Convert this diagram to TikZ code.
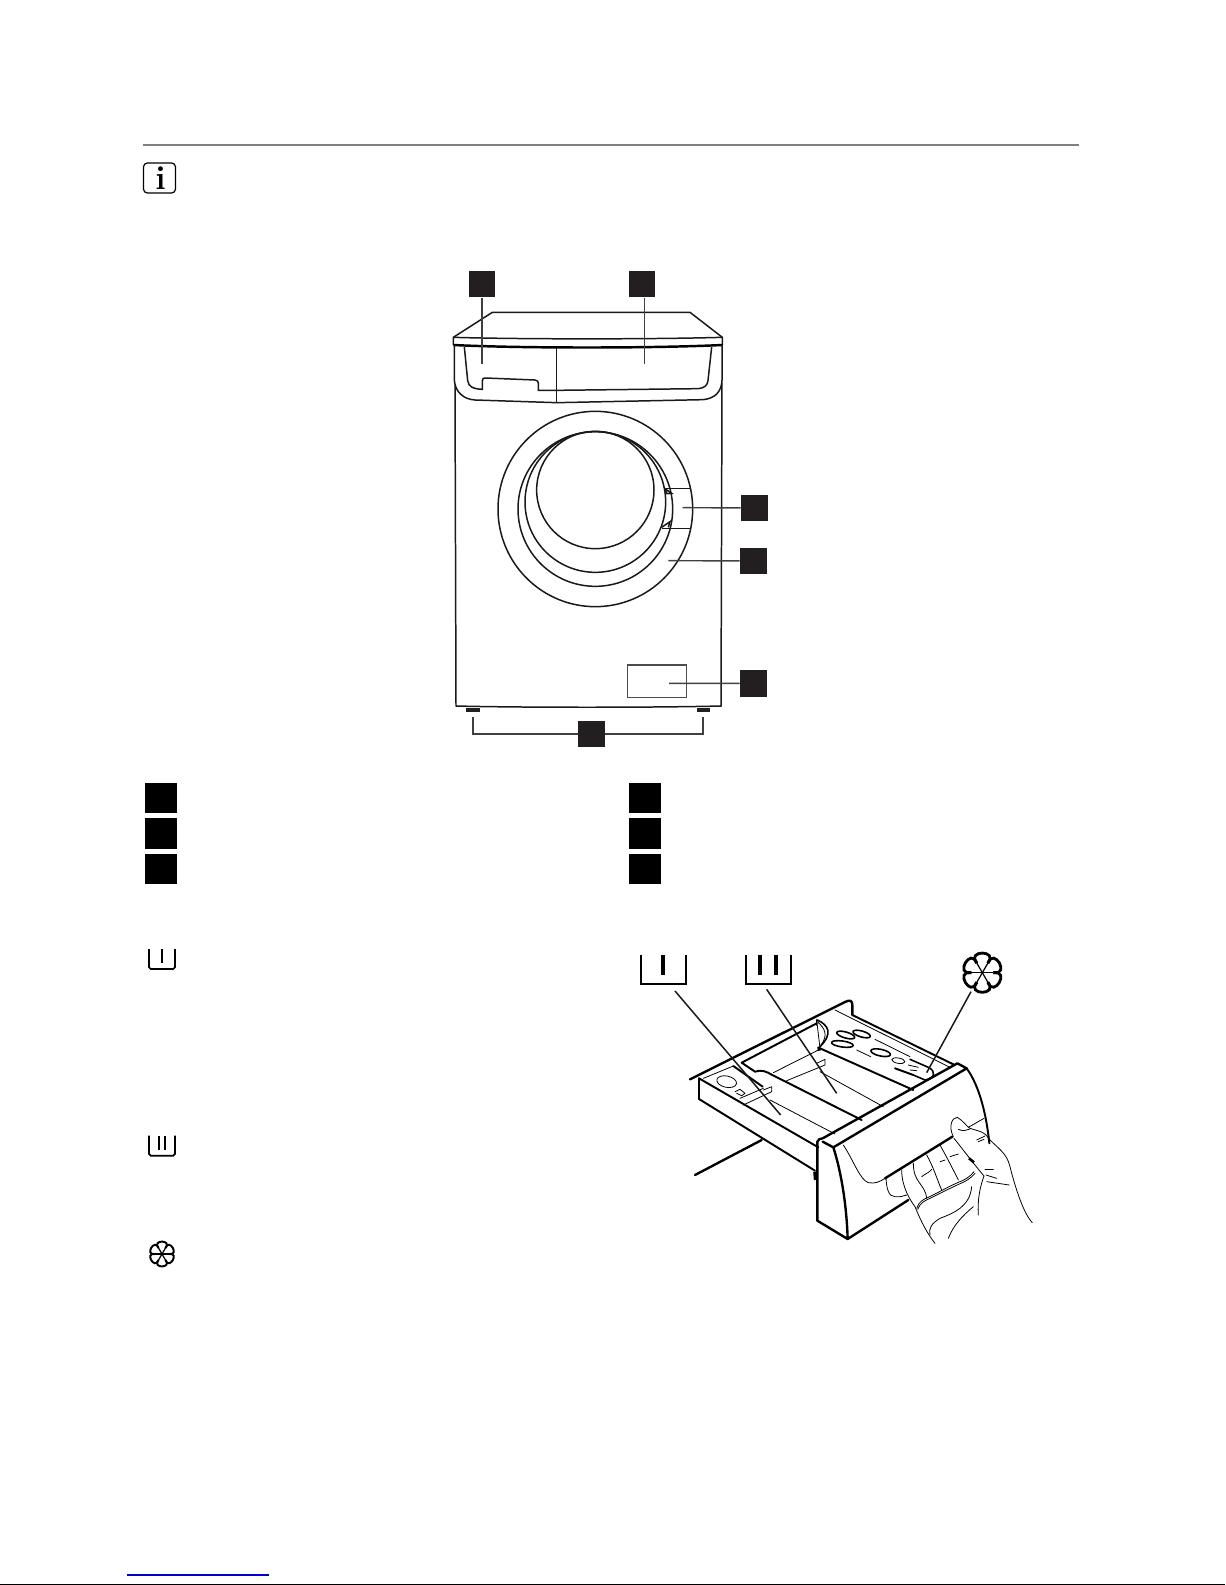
\documentclass[tikz,border=0pt]{standalone}
\usepackage{tikz}
\usetikzlibrary{positioning}
\definecolor{inkbox}{HTML}{231F20}
\tikzset{
  numbox/.style={fill=inkbox,inner sep=0pt,minimum size=0.53cm},
  keybox/.style={fill=black,inner sep=0pt,minimum width=0.63cm,minimum height=0.61cm},
  leader/.style={line width=0.8pt,color=black!75},
  body/.style={line width=0.85pt,color=black!90},
  heavy/.style={line width=1.35pt,line cap=round,line join=round},
  mid/.style={line width=1.1pt,line cap=round,line join=round},
  fine/.style={line width=0.45pt,line cap=round,line join=round},
  tray/.style={line width=0.9pt,line cap=round,line join=round}
}
\def\PETALS#1#2#3{\begin{scope}[shift={#1},scale=#2,line width=#3]
  \foreach \a in {0,60,...,300} {
    \draw (\a:0.55) .. controls (\a-6:1.42) and (\a+66:1.42) .. (\a+60:0.55);
    \draw[line width=0.7pt] (0,0) -- (\a:0.55);
  }
\end{scope}}
\begin{document}
\begin{tikzpicture}[x=0.02cm,y=-0.02cm]
\useasboundingbox (0,0) rectangle (1225,1585);
% page furniture
\draw[line width=1pt,black!50] (143,144.7) -- (1079,144.7);
\node[draw,line width=0.7pt,rounded corners=2.2pt,minimum width=0.64cm,minimum height=0.6cm,inner sep=0pt] (infobox) at (159.5,178) {};
\node[font=\fontsize{19}{19}\selectfont\bfseries,inner sep=0pt] (infoi) at (160.5,178) {i};
\draw[line width=0.7pt,blue!80!black] (127,1575) -- (269,1575);
\draw[line width=0.8pt] (0,1584.3) -- (1225,1584.3);
% keys under the machine
\node[keybox] (keyA) at (161,798) {};
\node[keybox] (keyB) at (161,833.5) {};
\node[keybox] (keyC) at (161,869) {};
\node[keybox] (keyD) at (645,798) {};
\node[keybox] (keyE) at (645,833.5) {};
\node[keybox] (keyF) at (645,869) {};
% machine
\begin{scope}[shift={(420,250)},scale=0.33333]
  \node[numbox] (boxA) at (186,102) {};
  \node[numbox] (boxB) at (666,102) {};
  \node[numbox] (boxC) at (1003,774) {};
  \node[numbox] (boxD) at (1000,933) {};
  \node[numbox] (boxE) at (1000,1300) {};
  \node[numbox] (boxF) at (514,1452) {};
  \coordinate (tipA) at (186,343);
  \coordinate (tipB) at (673,343);
  \coordinate (tipC) at (788,773);
  \coordinate (tipD) at (745,932);
  \coordinate (tipE) at (747,1300);
  \coordinate (footL) at (159,1402);
  \coordinate (footR) at (849,1402);
  % lid and cabinet
  \draw[body] (100,285) -- (100,262) -- (217,187) -- (810,187) -- (907,262) -- (907,285);
  \draw[body] (100,262) .. controls (300,268) and (700,268) .. (907,262);
  \draw[line width=1.4pt] (100,285) .. controls (300,295) and (700,295) .. (907,285);
  \draw[body] (103,285) -- (103,390) .. controls (105,425) and (130,448) .. (165,450) -- (410,458) -- (850,449) .. controls (885,445) and (905,425) .. (906,390) -- (906,285);
  \draw[body] (105,405) -- (108,1368) .. controls (300,1373) and (700,1373) .. (903,1368) -- (906,400);
  \draw[body] (133,291) -- (143,392) .. controls (145,410) and (160,417) .. (187,418) -- (187,392) .. controls (187,385) and (190,384) .. (197,384) -- (345,390) .. controls (353,391) and (355,395) .. (355,400) -- (355,421) -- (410,421) -- (835,416) .. controls (855,414) and (862,405) .. (864,392) -- (875,291);
  \draw[body] (410,295) -- (410,458);
  % door
  \draw[body] (526,777) ellipse (292 and 293);
  \draw[body] (526,777) circle (232);
  \draw[body] (526,756) circle (211);
  \draw[body] (526,720) circle (176);
  \draw[body] (735,716) -- (814,716);
  \draw[body] (725,835) -- (814,835);
  \draw[body] (735,716) -- (755,730) -- (741,731) -- cycle;
  \draw[body] (725,832) -- (750,815) -- (745,832);
  % plate and feet
  \draw[line width=0.8pt,black!70] (622,1245) rectangle (800,1342);
  \fill[inkbox] (138,1373) rectangle (180,1385);
  \fill[inkbox] (830,1373) rectangle (870,1385);
  % leaders
  \draw[leader] (boxA) -- (tipA);
  \draw[leader] (boxB.south -| tipB) -- (tipB);
  \draw[leader] (boxC) -- (tipC);
  \draw[leader] (boxD) -- (tipD);
  \draw[leader] (boxE) -- (tipE);
  \draw[leader] (footL) |- (boxF);
  \draw[leader] (footR) |- (boxF);
\end{scope}
% tub icons on the left
\begin{scope}[shift={(130,930)},scale=0.33333]
  \draw[line width=1pt,rounded corners=1pt] (57,57) -- (57,117) -- (135,117) -- (135,57);
  \draw[line width=1.2pt] (96,57) -- (96,100);
  \draw[line width=1pt,rounded corners=1pt] (57,617) -- (57,677) -- (135,677) -- (135,617);
  \foreach \x in {88,106} \draw[line width=1.2pt] (\x,617) -- (\x,660);
  \PETALS{(96,972)}{38}{1.1pt}
\end{scope}
% drawer
\begin{scope}[shift={(620,930)},scale=0.33333]
  \draw[line width=1.2pt] (62,75) -- (62,162) -- (198,162) -- (198,75);
  \draw[line width=2.2pt] (128,75) -- (128,135);
  \draw[line width=1.2pt] (378,75) -- (378,162) -- (512,162) -- (512,75);
  \foreach \x in {420,467} \draw[line width=2.2pt] (\x,75) -- (\x,135);
  \PETALS{(1087,128)}{60}{1.6pt}
  \coordinate (startM) at (165,183);
  \coordinate (tipM) at (482,555);
  \coordinate (startW) at (440,178);
  \coordinate (tipW) at (650,490);
  \coordinate (startS) at (1053,185);
  \coordinate (tipS) at (920,428);
  % rails and tray walls
  \draw[heavy] (210,448) -- (675,216) .. controls (690,208) and (697,212) .. (697,225) -- (697,255);
  \draw[heavy] (225,735) -- (425,630);
  \draw[mid] (365,398) -- (590,280);
  \draw[tray] (590,270) -- (590,285);
  \draw[mid] (237,445) -- (237,507) -- (585,722);
  \draw[mid] (237,445) -- (595,652);
  \draw[fine] (250,445) -- (340,408);
  \draw[mid] (340,408) -- (428,470);
  \draw[mid] (365,398) -- (405,425) .. controls (425,418) and (440,425) .. (455,434) -- (725,570);
  \draw[line width=1.7pt] (584,725) -- (586,750);
  % compartment inserts
  \draw[fine] (320,455) circle[x radius=30,y radius=17,rotate=-12];
  \draw[fine] (345,485) -- (360,478) -- (375,490) -- (365,497) -- (350,490);
  \draw[fine] (360,505) -- (430,475);
  \draw[fine] (370,525) -- (455,485) -- (455,470) -- (430,480);
  \draw[fine] (460,428) -- (595,360);
  \draw[fine] (500,452) -- (615,405) -- (615,388) -- (590,400);
  \draw[fine] (450,510) -- (645,612);
  \draw[fine] (600,425) -- (790,530);
  \draw[fine] (590,270) -- (600,355);
  \draw[tray] (592,270) .. controls (625,285) and (640,310) .. (600,350);
  \draw[fine] (592,275) .. controls (615,295) and (625,315) .. (603,345);
  % softener side
  \draw[mid] (600,355) -- (880,480);
  \draw[line width=1.7pt] (596,350) -- (598,362);
  \draw[mid] (697,255) -- (1000,403);
  \draw[fine] (645,240) -- (990,412);
  \draw[tray] (677,315) circle[x radius=28,y radius=9,rotate=-16];
  \draw[tray] (725,312) circle[x radius=27,y radius=9,rotate=-16];
  \draw[tray] (667,342) circle[x radius=33,y radius=9,rotate=-8];
  \draw[tray] (782,368) circle[x radius=30,y radius=10,rotate=-12];
  \draw[fine] (765,328) -- (870,380);
  \draw[fine] (710,360) -- (752,380);
  \draw[fine] (835,392) circle[x radius=20,y radius=8,rotate=-10];
  \draw[tray] (870,388) -- (925,412) .. controls (950,425) and (945,445) .. (915,450) -- (880,435);
  \draw[mid] (825,415) -- (880,435);
  \draw[fine] (865,405) -- (895,412);
  \draw[fine] (870,420) -- (890,422);
  % front panel
  \draw[heavy] (592,872) -- (592,635) .. controls (595,628) and (600,625) .. (608,625) -- (1012,400) -- (1040,415) -- (640,652) -- (608,635);
  \draw[heavy] (640,652) .. controls (665,730) and (680,830) .. (683,927) -- (592,872);
  \draw[heavy] (683,927) -- (865,810);
  \draw[mid] (1040,415) .. controls (1080,470) and (1100,560) .. (1108,640);
  \draw[heavy] (795,745) -- (997,620);
  \draw[fine] (1045,592) -- (1092,565);
  \draw[fine] (670,645) .. controls (700,690) and (720,750) .. (745,758) .. controls (765,762) and (780,755) .. (795,745);
  % hand
  \draw[fine] (1000,620) .. controls (985,590) and (995,562) .. (1012,562) .. controls (1030,572) and (1040,590) .. (1050,595) .. controls (1080,605) and (1095,605) .. (1105,625) .. controls (1140,660) and (1160,670) .. (1170,710) .. controls (1185,770) and (1210,850) .. (1237,878);
  \draw[fine] (1015,598) .. controls (1030,605) and (1040,600) .. (1050,597);
  \draw[fine] (1002,625) .. controls (1030,660) and (1060,700) .. (1092,738);
  \draw[line width=1.5pt] (1047,685) -- (1062,697);
  \draw[fine] (798,745) .. controls (800,775) and (805,800) .. (825,800) .. controls (840,802) and (850,798) .. (860,795);
  \draw[fine] (845,720) .. controls (845,770) and (870,810) .. (885,830) .. controls (905,880) and (925,915) .. (945,940);
  \draw[fine] (880,700) .. controls (880,760) and (915,760) .. (920,805);
  \draw[fine] (920,675) .. controls (940,710) and (950,745) .. (965,780);
  \draw[fine] (960,645) .. controls (985,690) and (1000,720) .. (1015,750);
  \draw[fine] (890,835) .. controls (895,815) and (915,805) .. (925,802) .. controls (960,785) and (985,770) .. (1015,757) .. controls (1035,750) and (1050,740) .. (1062,725);
  \draw[fine] (893,838) .. controls (900,818) and (918,810) .. (928,806) .. controls (960,790) and (990,775) .. (1018,762) .. controls (1038,754) and (1052,745) .. (1065,730);
  \draw[fine] (1092,738) .. controls (1080,770) and (1072,810) .. (1075,855);
  \draw[fine] (1055,770) .. controls (1050,830) and (1000,850) .. (960,865) .. controls (935,880) and (925,895) .. (930,915);
  \draw[fine] (1060,830) .. controls (1030,855) and (1000,885) .. (985,925);
  \draw[fine] (1095,718) -- (1120,718);
  \draw[fine] (1098,735) -- (1130,745);
  \draw[fine] (1100,755) -- (1168,765);
  \draw[fine] (905,740) .. controls (925,725) and (925,730) .. (935,718);
  \draw[fine] (975,690) -- (960,695);
  \draw[fine] (990,680) -- (1015,672);
  \draw[fine] (1070,630) -- (1095,618);
  \draw[fine] (1075,635) -- (1092,628);
  % leaders
  \draw[body] (startM) -- (tipM);
  \draw[body] (startW) -- (tipW);
  \draw[body] (startS) -- (tipS);
\end{scope}
\end{tikzpicture}
\end{document}
